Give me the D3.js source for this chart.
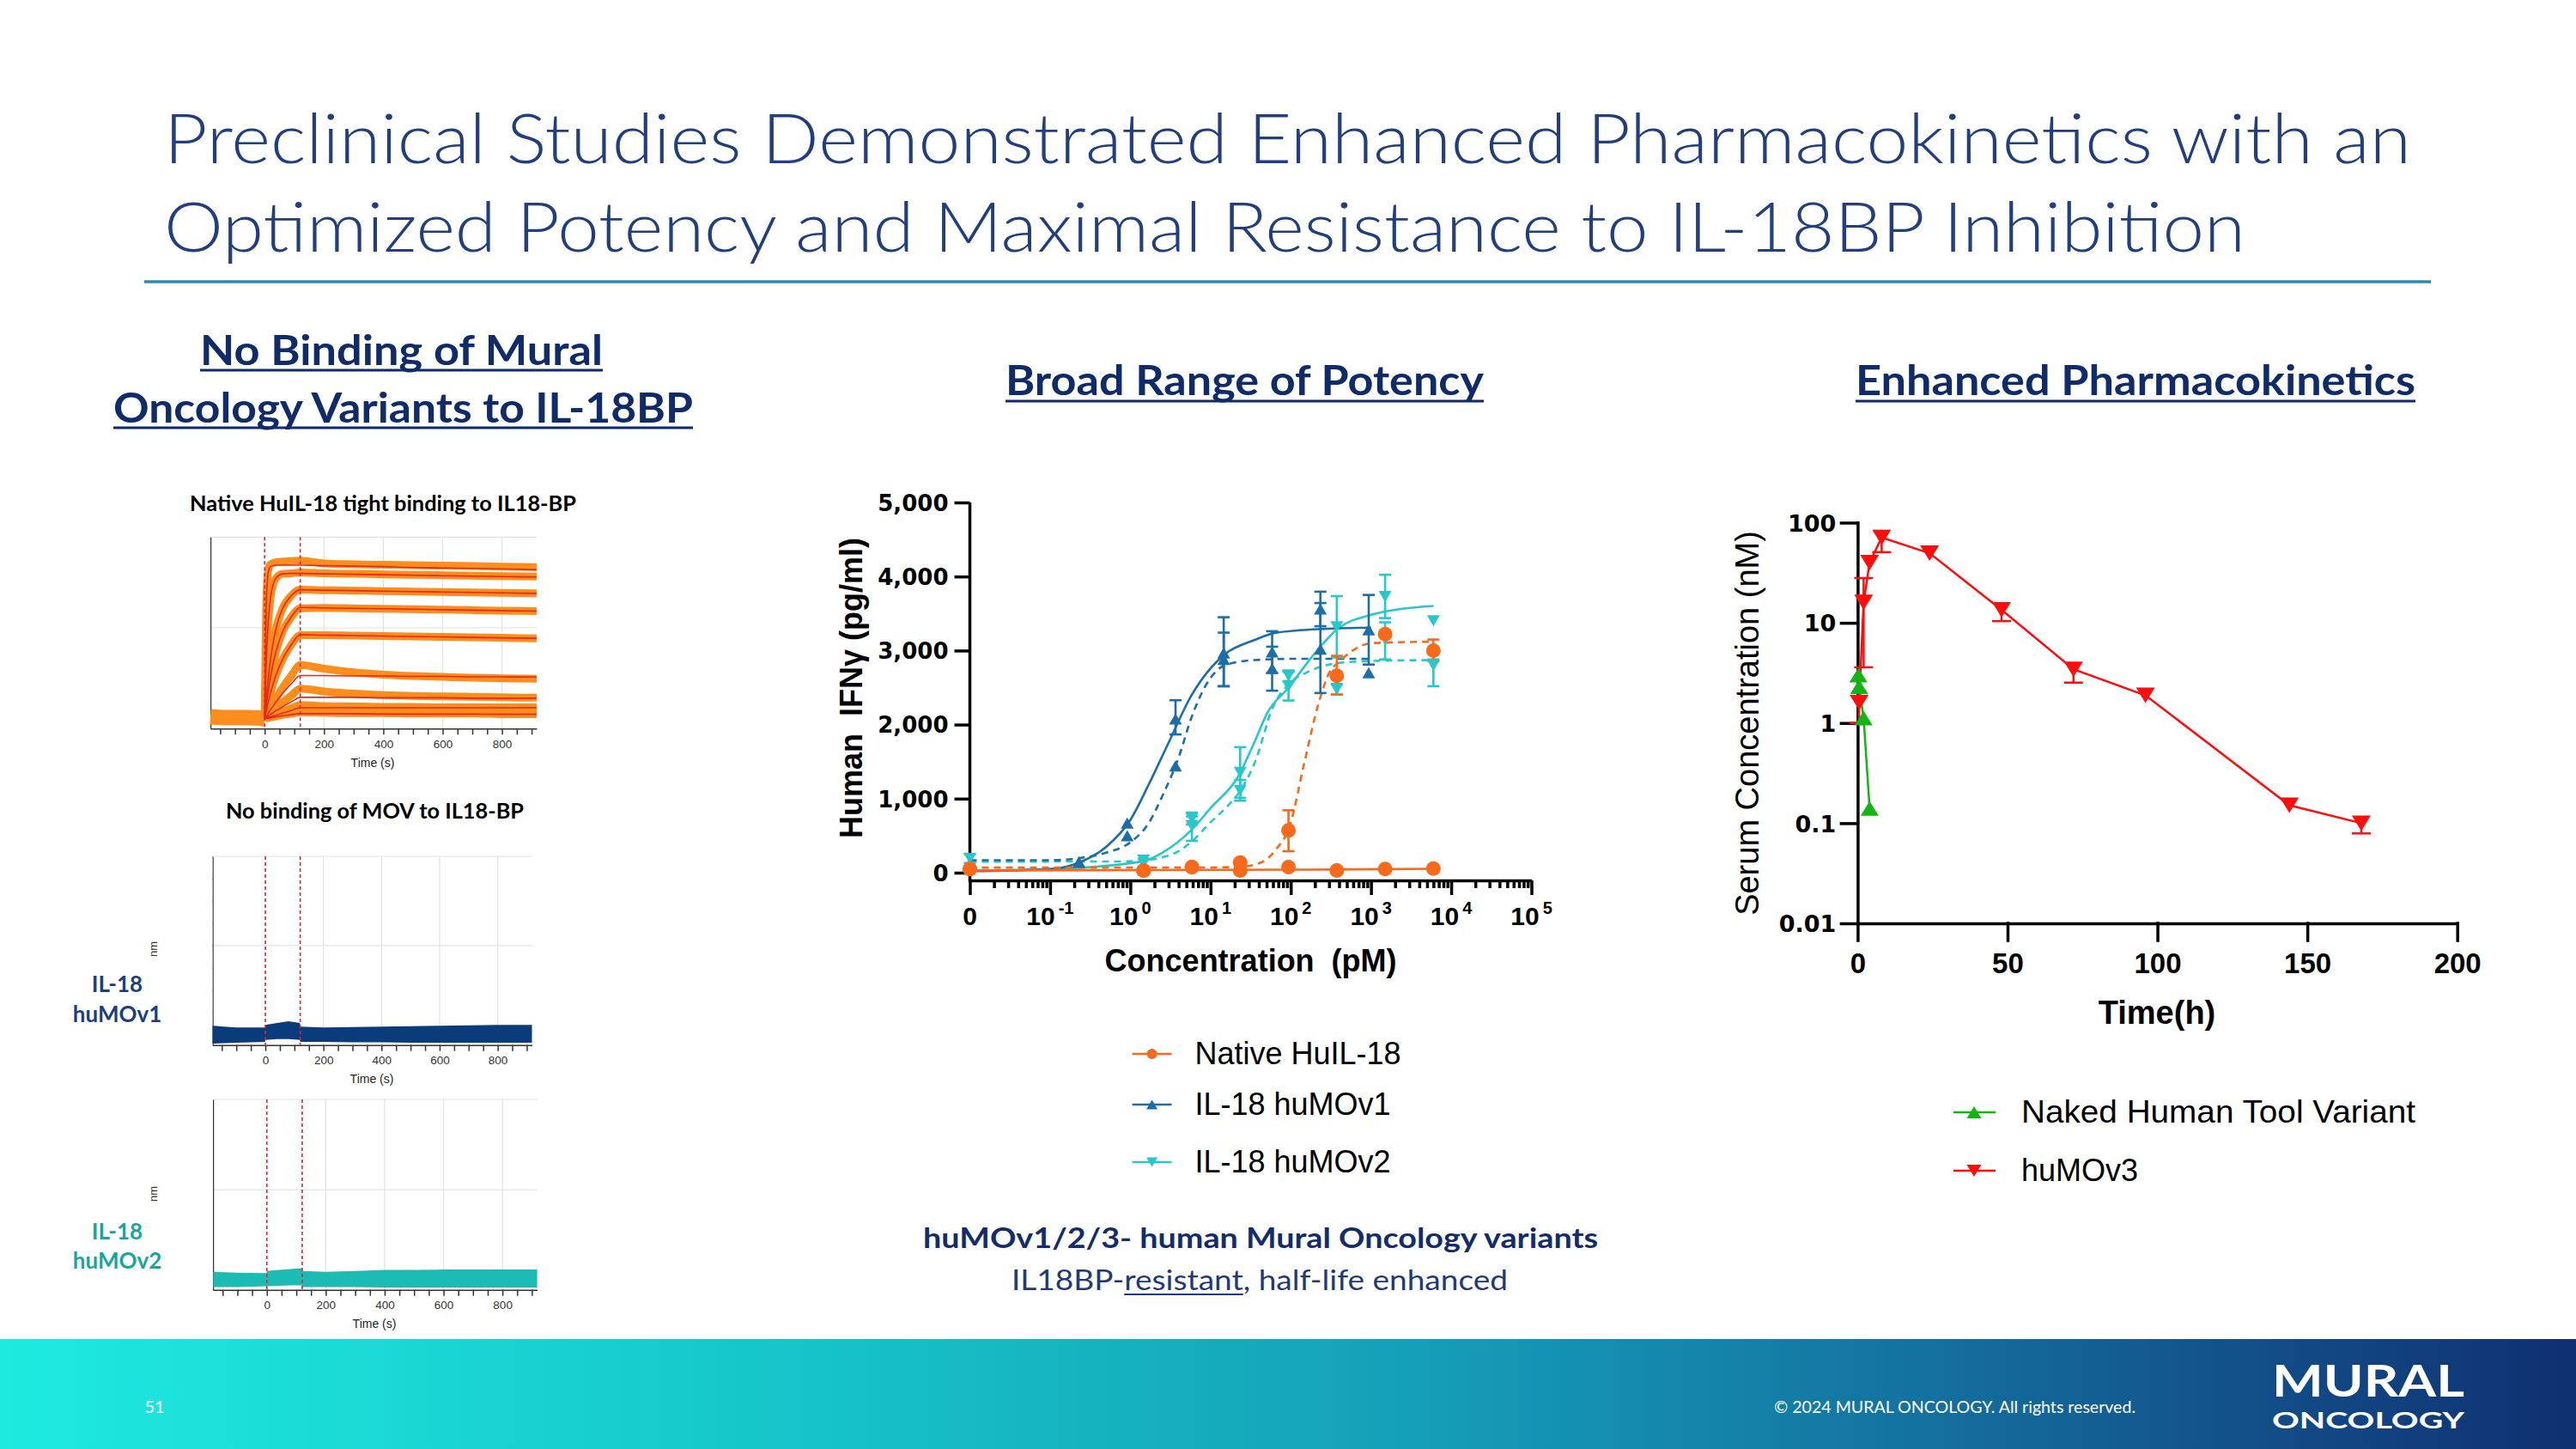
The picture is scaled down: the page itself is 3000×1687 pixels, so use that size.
<!DOCTYPE html>
<html><head><meta charset="utf-8">
<script src="https://cdn.jsdelivr.net/npm/d3@7"></script>
<style>
body{margin:0;background:#fff}
svg{display:block}
text{white-space:pre}
</style>
</head><body>
<svg id="s" width="3000" height="1687" xmlns="http://www.w3.org/2000/svg"></svg>
<script>
// ================= DATA =================
const titleLines = ["Preclinical Studies Demonstrated Enhanced Pharmacokinetics with an",
                    "Optimized Potency and Maximal Resistance to IL-18BP Inhibition"];
const leftHeading = ["No Binding of Mural", "Oncology Variants to IL-18BP"];
const midHeading = "Broad Range of Potency";
const rightHeading = "Enhanced Pharmacokinetics";

// --- Sensorgram (native HuIL-18 binding to IL18-BP), values in nm ---
const baselineTimes = [-183, -120, -60, 0];
const baselineVals = [0.004, 0.002, 0.002, 0.0];
const assocTimes = [0, 5, 10, 15, 20, 30, 40, 60, 90, 120];
const dissocTimes = [120, 200, 300, 400, 500, 600, 700, 800, 917];
const fitAssoc = [
  [0, .24, .31, .33, .335, .337, .338, .338, .338, .338],
  [0, .116, .19, .237, .267, .299, .311, .319, .32, .32],
  [0, .04, .075, .105, .131, .172, .203, .242, .271, .284],
  [0, .027, .051, .073, .093, .126, .152, .191, .224, .245],
  [0, .016, .031, .044, .057, .08, .099, .13, .163, .185],
  [0, .005, .01, .015, .02, .029, .038, .055, .077, .095],
  [0, .002, .005, .007, .009, .014, .018, .026, .037, .047],
  [0, .001, .002, .003, .004, .006, .008, .012, .018, .024],
  [0, .0005, .001, .0015, .002, .003, .004, .006, .009, .011]
];
const fitDissoc = [
  [.338, .337, .336, .335, .333, .332, .331, .330, .328],
  [.320, .319, .318, .317, .316, .315, .314, .313, .312],
  [.284, .283, .282, .281, .280, .279, .278, .277, .276],
  [.245, .244, .243, .242, .241, .240, .239, .238, .237],
  [.185, .184, .183, .182, .181, .180, .179, .178, .177],
  [.095, .095, .094, .094, .093, .093, .092, .092, .0915],
  [.047, .047, .047, .046, .046, .046, .045, .045, .045],
  [.024, .024, .024, .024, .024, .024, .024, .024, .024],
  [.011, .011, .011, .010, .010, .010, .010, .0095, .0095]
];
const dataAssoc = [
  [0, .24, .315, .335, .34, .343, .345, .346, .347, .348],
  [0, .116, .19, .237, .267, .299, .311, .319, .32, .322],
  [0, .04, .075, .105, .131, .172, .203, .242, .271, .284],
  [0, .027, .051, .073, .093, .126, .152, .191, .224, .243],
  [0, .016, .031, .044, .057, .08, .099, .13, .163, .184],
  [0, .007, .013, .019, .025, .036, .047, .068, .095, .118],
  [0, .003, .007, .01, .013, .019, .025, .036, .051, .066],
  [0, .002, .003, .004, .006, .008, .011, .016, .023, .03],
  [0, .001, .001, .002, .003, .004, .005, .008, .011, .014]
];
const dataDissoc = [
  [.346, .342, .34, .339, .338, .337, .336, .335, .334],
  [.322, .32, .319, .318, .317, .316, .315, .314, .313],
  [.284, .283, .282, .281, .280, .279, .278, .277, .276],
  [.245, .244, .243, .242, .241, .240, .239, .238, .237],
  [.185, .184, .183, .182, .181, .180, .179, .178, .177],
  [.118, .11, .102, .097, .094, .092, .09, .089, .088],
  [.066, .06, .055, .052, .05, .049, .048, .047, .046],
  [.03, .028, .027, .026, .026, .025, .025, .025, .025],
  [.014, .013, .012, .012, .011, .011, .011, .01, .01]
];
// --- No-binding sensorgrams (signal band, nm) ---
const movTimes = [-182, -100, -1, 0, 40, 80, 119, 120, 200, 300, 400, 500, 600, 700, 800, 918];
const mov1Upper = [.02, .016, .016, .022, .026, .03, .026, .018, .016, .017, .018, .019, .02, .021, .022, .022];
const mov1Lower = [-.02, -.018, -.016, -.012, -.01, -.01, -.012, -.016, -.016, -.017, -.017, -.018, -.018, -.018, -.018, -.018];
const mov2Upper = [.018, .016, .015, .02, .022, .024, .026, .02, .018, .02, .022, .022, .023, .023, .023, .023];
const mov2Lower = [-.016, -.016, -.014, -.014, -.013, -.012, -.012, -.016, -.016, -.016, -.017, -.017, -.017, -.017, -.017, -.017];
const sensorXTicks = [-150, -100, -50, 0, 50, 100, 150, 200, 250, 300, 350, 400, 450, 500, 550, 600, 650, 700, 750, 800, 850, 900];
const sensorYTicks = [0, 0.05, 0.1, 0.15, 0.2, 0.25, 0.3, 0.35, 0.4];

// --- Potency (IFNγ pg/ml vs concentration pM; 0 pM drawn at the "0" position) ---
const potencyYTicks = [0, 1000, 2000, 3000, 4000, 5000];
const potencyXMajor = [0.01, 0.1, 1, 10, 100, 1000, 10000, 100000];
const potencyXLabelExp = [null, "-1", "0", "1", "2", "3", "4", "5"];
const nativeConc = [0, 1.46, 5.86, 23.4, 93.75, 375, 1500, 6000];
const nativeSolidVals = [48, 28, 76, 28, 76, 28, 48, 56];
const nativeDashedVals = [48, 28, 76, 137, 570, 2659, 3221, 3000];
const nativeDashedErr = [null, null, null, null, [289, 843], [2406, 2928], null, [2859, 3149]];
const v1Conc = [0.229, 0.916, 3.66, 14.6, 58.6, 234, 937];
const v1SolidVals = [141, 670, 2076, 2968, 2980, 3562, 3281];
const v1SolidErr = [null, null, [1867, 2329], [2518, 3450], [2700, 3261], [3329, 3795], [2811, 3751]];
const v1DashedVals = [141, 498, 1442, 2880, 2759, 3020, 2699];
const v1DashedErr = [null, null, null, [2518, 3242], [2458, 3052], [2426, 3642], null];
const v2Conc = [0, 1.46, 5.86, 23.4, 93.75, 375, 1500, 6000];
const v2SolidVals = [30, 169, 731, 1353, 2518, 3321, 3731, 3402];
const v2SolidErr = [null, null, [651, 811], [1011, 1695], [2325, 2711], [2906, 3735], [3438, 4024], null];
const v2DashedVals = [190, 129, 631, 1112, 2659, 2478, 3150, 2799];
const v2DashedErr = [[130, 249], null, [430, 760], [972, 1252], [2587, 2731], [2406, 2550], [2880, 3381], [2518, 2880]];
// fitted curves: [conc pM, value]
const nativeSolidCurve = [[0.01, 30], [100, 40], [6000, 52]];
const nativeDashedCurve = [[0.01, 68], [10, 70], [23, 80], [36, 110], [50, 180], [65, 309], [97, 630], [147, 1474], [221, 2277], [308, 2719], [393, 2839], [590, 3000], [1023, 3100], [6000, 3120]];
const v1SolidCurve = [[0.01, 20], [0.1, 48], [0.23, 137], [0.5, 349], [1, 711], [1.7, 1193], [3, 1755], [5.8, 2397], [10, 2759], [15.5, 2960], [35, 3140], [65, 3241], [260, 3293], [1000, 3309]];
const v1DashedCurve = [[0.01, 169], [0.1, 169], [0.23, 197], [0.5, 269], [1, 410], [1.7, 671], [2.5, 1032], [4, 1554], [5.7, 2076], [8.6, 2518], [15.5, 2807], [35, 2871], [100, 2888], [1000, 2888]];
const v2SolidCurve = [[0.01, 28], [0.1, 48], [1.4, 149], [2.5, 269], [5.7, 570], [10, 871], [23, 1333], [35, 1755], [51, 2157], [97, 2518], [173, 2880], [393, 3301], [1000, 3482], [6000, 3602]];
const v2DashedCurve = [[0.01, 149], [1, 152], [3, 230], [5.7, 410], [10, 680], [17, 920], [23, 1092], [36, 1500], [60, 2237], [97, 2558], [170, 2719], [390, 2831], [1000, 2859], [6000, 2871]];
const potencyLegend = ["Native HuIL-18", "IL-18 huMOv1", "IL-18 huMOv2"];

// --- Pharmacokinetics (serum nM vs time h) ---
const pkYTicks = [0.01, 0.1, 1, 10, 100];
const pkYTickLabels = ["0.01", "0.1", "1", "10", "100"];
const pkXTicks = [0, 50, 100, 150, 200];
const pkTimes = [0.5, 2, 4, 8, 24, 48, 72, 96, 144, 168];
const pkHuMOv3 = [1.6, 16, 40, 71, 49.6, 13.5, 3.44, 1.89, 0.151, 0.1];
const pkHuMOv3ErrLow = [1.0, 3.6, null, 50.7, null, 10.4, 2.53, null, null, 0.079];
const pkHuMOv3ErrHigh = [null, 28, null, null, null, null, null, null, null, null];
const pkNakedTimes = [0.25, 0.5, 2, 4];
const pkNaked = [3.0, 2.3, 1.12, 0.14];
const pkLegend = ["Naked Human Tool Variant", "huMOv3"];

// ================= DRAW =================
const svg = d3.select("#s");
const NAVY = "#0f2b69", TITLE = "#213f7e";
const CAL = "Lato, 'Open Sans', sans-serif";
const ARIAL = "'Liberation Sans', Arial, sans-serif";
const DEJA = "'DejaVu Sans', sans-serif";
const cBlue = "#1b6ea7", cCyan = "#27c8cb", cOrange = "#f8691c", cRed = "#ff0d0d", cGreen = "#12b512";

const defs = svg.append("defs");
svg.append("rect").attr("width", 3000).attr("height", 1687).attr("fill", "#fff");

function txt(g, s, x, y, o) {
  const t = g.append("text").attr("x", x).attr("y", y).text(s)
    .attr("font-family", o.font || CAL).attr("font-size", o.size)
    .attr("font-weight", o.weight || 400).attr("fill", o.fill || "#000")
    .attr("text-anchor", o.anchor || "start");
  if (o.len) t.attr("textLength", o.len).attr("lengthAdjust", "spacingAndGlyphs");
  return t;
}
function uline(x1, x2, y, col, w) {
  svg.append("line").attr("x1", x1).attr("x2", x2).attr("y1", y).attr("y2", y)
    .attr("stroke", col).attr("stroke-width", w || 3);
}

// ---- Title ----
txt(svg, titleLines[0], 191, 190, {size: 80, weight: 300, fill: TITLE, len: 2617});
txt(svg, titleLines[1], 191, 293, {size: 80, weight: 300, fill: TITLE, len: 2424});
uline(168, 2831, 328, "#2a8bab", 3.5);

// ---- Headings ----
txt(svg, leftHeading[0], 233, 425, {size: 48, weight: 700, fill: NAVY, len: 469});
uline(233, 702, 431, NAVY, 3);
txt(svg, leftHeading[1], 132, 492, {size: 48, weight: 700, fill: NAVY, len: 675});
uline(132, 807, 498, NAVY, 3);
txt(svg, midHeading, 1171, 460, {size: 48, weight: 700, fill: NAVY, len: 557});
uline(1171, 1728, 467, NAVY, 3);
txt(svg, rightHeading, 2161, 460, {size: 48, weight: 700, fill: NAVY, len: 652});
uline(2161, 2813, 467, NAVY, 3);

// ---- Sensorgrams ----
function sensorFrame(cfg) {
  const g = svg.append("g");
  const x = d3.scaleLinear().domain(cfg.xd).range([cfg.left, cfg.right]);
  const y = d3.scaleLinear().domain(cfg.yd).range([cfg.bottom, cfg.top]);
  [200, 400, 600, 800].forEach(v => g.append("line").attr("x1", x(v)).attr("x2", x(v))
    .attr("y1", cfg.top).attr("y2", cfg.bottom).attr("stroke", "#e2e2e2").attr("stroke-width", 1.2));
  [0.2, 0.4].forEach(v => g.append("line").attr("x1", cfg.left).attr("x2", cfg.right)
    .attr("y1", y(v)).attr("y2", y(v)).attr("stroke", "#e2e2e2").attr("stroke-width", 1.2));
  const clipId = "clip" + cfg.id;
  defs.append("clipPath").attr("id", clipId).append("rect")
    .attr("x", 0).attr("y", cfg.top - 1).attr("width", 700).attr("height", 400);
  const ya = g.append("g").attr("transform", `translate(${cfg.left},0)`).attr("clip-path", `url(#${clipId})`)
    .call(d3.axisLeft(y).tickValues(sensorYTicks).tickSize(6).tickSizeOuter(0).tickPadding(4)
      .tickFormat(d => (Math.abs(d) < 1e-9 ? "0" : Math.abs(d - 0.2) < 1e-9 ? "0.2" : Math.abs(d - 0.4) < 1e-9 ? "0.4" : "")));
  const xa = g.append("g").attr("transform", `translate(0,${cfg.bottom})`)
    .call(d3.axisBottom(x).tickValues(sensorXTicks).tickSize(7).tickSizeOuter(0).tickPadding(6)
      .tickFormat(d => (d >= 0 && d % 200 === 0 ? d : "")));
  [ya, xa].forEach(a => {
    a.selectAll("path,line").attr("stroke", "#333").attr("stroke-width", 1.5);
    a.selectAll("text").attr("font-family", ARIAL).attr("font-size", 13.5).attr("fill", "#333");
  });
  txt(g, "Time (s)", cfg.timeX, cfg.timeY, {font: ARIAL, size: 14, fill: "#222", anchor: "middle"});
  if (cfg.nm) {
    g.append("text").attr("transform", `translate(${cfg.nm[0]},${cfg.nm[1]}) rotate(-90)`)
      .attr("text-anchor", "middle").attr("font-family", ARIAL).attr("font-size", 13).attr("fill", "#333").text("nm");
  }
  return {g, x, y};
}
function redMarkers(f, cfg) {
  [0, 120].forEach(v => f.g.append("line").attr("x1", f.x(v)).attr("x2", f.x(v))
    .attr("y1", cfg.top).attr("y2", cfg.bottom).attr("stroke", "#e3242b")
    .attr("stroke-width", 1.6).attr("stroke-dasharray", "4,3"));
}

// Plot 1
txt(svg, "Native HuIL-18 tight binding to IL18-BP", 221, 595, {size: 25, weight: 700, len: 450});
const s1cfg = {id: 1, xd: [-183, 917], yd: [-0.022, 0.4], left: 245, right: 625, bottom: 848.3, top: 625.3, timeX: 434, timeY: 893};
const s1 = sensorFrame(s1cfg);
{
  const ln = d3.line().x(d => s1.x(d[0])).y(d => s1.y(d[1])).curve(d3.curveMonotoneX);
  s1.g.append("path").attr("d", ln(baselineTimes.map((t, i) => [t, baselineVals[i]])))
    .attr("fill", "none").attr("stroke", "#fd8d1c").attr("stroke-width", 18).attr("stroke-linejoin", "round");
  dataAssoc.forEach((arr, k) => {
    const pts = assocTimes.map((t, i) => [t, arr[i]]).concat(dissocTimes.slice(1).map((t, i) => [t, dataDissoc[k][i + 1]]));
    s1.g.append("path").attr("d", ln(pts)).attr("fill", "none").attr("stroke", "#fd8d1c")
      .attr("stroke-width", 9).attr("stroke-linejoin", "round");
  });
  redMarkers(s1, s1cfg);
  fitAssoc.forEach((arr, k) => {
    const pts = assocTimes.map((t, i) => [t, arr[i]]).concat(dissocTimes.slice(1).map((t, i) => [t, fitDissoc[k][i + 1]]));
    s1.g.append("path").attr("d", ln(pts)).attr("fill", "none").attr("stroke", "#e8261a").attr("stroke-width", 1.6);
  });
}

// Plot 2 & 3
txt(svg, "No binding of MOV to IL18-BP", 263, 953, {size: 25, weight: 700, len: 347});
function movPlot(cfg, upper, lower, col) {
  const f = sensorFrame(cfg);
  const ar = d3.area().x(d => f.x(d[0])).y0(d => f.y(d[1])).y1(d => f.y(d[2]));
  f.g.append("path").attr("d", ar(movTimes.map((t, i) => [t, lower[i], upper[i]]))).attr("fill", col);
  redMarkers(f, cfg);
  return f;
}
movPlot({id: 2, xd: [-182, 918], yd: [-0.0233, 0.4], left: 247.5, right: 619.5, bottom: 1216.7, top: 997, timeX: 433, timeY: 1261, nm: [183, 1105]},
  mov1Upper, mov1Lower, "#0a3c7b");
movPlot({id: 3, xd: [-183, 918], yd: [-0.022, 0.4], left: 248, right: 625.6, bottom: 1501.7, top: 1280, timeX: 436, timeY: 1546, nm: [183, 1390]},
  mov2Upper, mov2Lower, "#1cbbb4");
txt(svg, "IL-18", 136.5, 1155, {size: 26, weight: 700, fill: "#1b3f7c", anchor: "middle"});
txt(svg, "huMOv1", 136.5, 1190, {size: 26, weight: 700, fill: "#1b3f7c", anchor: "middle"});
txt(svg, "IL-18", 136.5, 1443, {size: 26, weight: 700, fill: "#17a59f", anchor: "middle"});
txt(svg, "huMOv2", 136.5, 1477, {size: 26, weight: 700, fill: "#17a59f", anchor: "middle"});

// ---- Potency chart ----
function tri(w, h, down) {
  const hw = w / 2, hh = h / 2;
  return down ? `M${-hw},${-hh}L${hw},${-hh}L0,${hh}Z` : `M${-hw},${hh}L${hw},${hh}L0,${-hh}Z`;
}
{
  const pg = svg.append("g");
  const px = d3.scaleLog().domain([0.01, 1e5]).range([1129.5, 1783.5]);
  const py = d3.scaleLinear().domain([0, 5000]).range([1016, 585]);
  const axY = 1025;
  const cx = c => px(c === 0 ? 0.01 : c);
  const minor = [];
  for (let e = -2; e <= 4; e++) for (let m = 2; m <= 9; m++) minor.push(m * Math.pow(10, e));
  const isMajor = d => potencyXMajor.some(v => Math.abs(v - d) / v < 1e-9);
  const xa = pg.append("g").attr("transform", `translate(0,${axY})`)
    .call(d3.axisBottom(px).tickValues(potencyXMajor.concat(minor)).tickSizeOuter(0).tickFormat(""));
  xa.selectAll(".tick line").attr("y2", d => isMajor(d) ? 17 : 9);
  xa.selectAll("path,line").attr("stroke", "#000").attr("stroke-width", 3.5);
  const ya = pg.append("g").attr("transform", `translate(1129.5,0)`)
    .call(d3.axisLeft(py).tickValues(potencyYTicks).tickSize(18).tickPadding(7).tickSizeOuter(0).tickFormat(d3.format(",")));
  ya.select(".domain").remove();
  ya.selectAll("line").attr("stroke", "#000").attr("stroke-width", 3.5);
  ya.selectAll("text").attr("font-family", DEJA).attr("font-weight", 700).attr("font-size", 26).attr("fill", "#000").attr("dy", "0.36em");
  pg.append("line").attr("x1", 1129.5).attr("x2", 1129.5).attr("y1", 585).attr("y2", axY + 1.75)
    .attr("stroke", "#000").attr("stroke-width", 3.5);
  potencyXMajor.forEach((v, i) => {
    const t = pg.append("text").attr("x", px(v)).attr("y", 1077).attr("text-anchor", "middle")
      .attr("font-family", ARIAL).attr("font-weight", 700).attr("font-size", 30).attr("fill", "#000");
    if (potencyXLabelExp[i] === null) t.text("0");
    else {
      t.append("tspan").text("10");
      t.append("tspan").attr("dx", 4).attr("dy", -13).attr("font-size", 20).text(potencyXLabelExp[i]);
    }
  });
  pg.append("text").attr("transform", "translate(1004,801) rotate(-90)").attr("text-anchor", "middle")
    .attr("font-family", ARIAL).attr("font-weight", 700).attr("font-size", 36).text("Human  IFNγ (pg/ml)");
  txt(pg, "Concentration  (pM)", 1456.6, 1131, {font: ARIAL, weight: 700, size: 36, anchor: "middle"});

  const ln = d3.line().x(d => px(d[0])).y(d => py(d[1])).curve(d3.curveMonotoneX);
  function curve(pts, col, dashed) {
    pg.append("path").attr("d", ln(pts)).attr("fill", "none").attr("stroke", col)
      .attr("stroke-width", 2.6).attr("stroke-dasharray", dashed ? "8,6" : null);
  }
  function errs(conc, errArr, col) {
    errArr.forEach((e, i) => {
      if (!e) return;
      const xx = cx(conc[i]);
      pg.append("line").attr("x1", xx).attr("x2", xx).attr("y1", py(e[0])).attr("y2", py(e[1])).attr("stroke", col).attr("stroke-width", 2.6);
      e.forEach(v => pg.append("line").attr("x1", xx - 7).attr("x2", xx + 7).attr("y1", py(v)).attr("y2", py(v)).attr("stroke", col).attr("stroke-width", 2.6));
    });
  }
  function marks(conc, vals, col, shape) {
    conc.forEach((c, i) => {
      const g = pg.append("g").attr("transform", `translate(${cx(c)},${py(vals[i])})`);
      if (shape === "circle") g.append("circle").attr("r", 8.5).attr("fill", col);
      else g.append("path").attr("d", tri(15, 13, shape === "down")).attr("fill", col);
    });
  }
  curve(v2SolidCurve, cCyan, false); curve(v2DashedCurve, cCyan, true);
  curve(v1SolidCurve, cBlue, false); curve(v1DashedCurve, cBlue, true);
  curve(nativeSolidCurve, cOrange, false); curve(nativeDashedCurve, cOrange, true);
  errs(v2Conc, v2SolidErr, cCyan); errs(v2Conc, v2DashedErr, cCyan);
  errs(v1Conc, v1SolidErr, cBlue); errs(v1Conc, v1DashedErr, cBlue);
  errs(nativeConc, nativeDashedErr, cOrange);
  marks(v2Conc, v2SolidVals, cCyan, "down"); marks(v2Conc, v2DashedVals, cCyan, "down");
  marks(v1Conc, v1SolidVals, cBlue, "up"); marks(v1Conc, v1DashedVals, cBlue, "up");
  marks(nativeConc, nativeSolidVals, cOrange, "circle"); marks(nativeConc, nativeDashedVals, cOrange, "circle");

  const legY = [1227, 1286, 1353];
  const legCol = [cOrange, cBlue, cCyan];
  const legShape = ["circle", "up", "down"];
  potencyLegend.forEach((s, i) => {
    pg.append("line").attr("x1", 1318.6).attr("x2", 1364.5).attr("y1", legY[i]).attr("y2", legY[i]).attr("stroke", legCol[i]).attr("stroke-width", 2.5);
    const g = pg.append("g").attr("transform", `translate(1341.6,${legY[i]})`);
    if (legShape[i] === "circle") g.append("circle").attr("r", 6).attr("fill", legCol[i]);
    else g.append("path").attr("d", tri(13, 11, legShape[i] === "down")).attr("fill", legCol[i]);
    txt(pg, s, 1391.5, legY[i] + 12, {font: ARIAL, size: 36});
  });
}
txt(svg, "huMOv1/2/3- human Mural Oncology variants", 1075, 1453, {size: 33, weight: 700, fill: "#142c6a", len: 786});
{
  const t = svg.append("text").attr("x", 1178).attr("y", 1502).attr("font-family", CAL).attr("font-size", 32)
    .attr("fill", "#1f3a77").attr("textLength", 578).attr("lengthAdjust", "spacingAndGlyphs");
  t.append("tspan").text("IL18BP-");
  t.append("tspan").text("resistant");
  t.append("tspan").text(", half-life enhanced");
  let x1 = 1300, x2 = 1441;
  try { x1 = t.node().getStartPositionOfChar(7).x; x2 = t.node().getEndPositionOfChar(15).x; } catch (e) {}
  uline(x1, x2, 1507, "#1f3a77", 2);
}

// ---- PK chart ----
{
  const kg = svg.append("g");
  const kx = d3.scaleLinear().domain([0, 200]).range([2163.4, 2861.7]);
  const ky = d3.scaleLog().domain([0.01, 100]).range([1075, 608.5]);
  const ya = kg.append("g").attr("transform", "translate(2163.4,0)")
    .call(d3.axisLeft(ky).tickValues(pkYTicks).tickSize(19).tickPadding(6).tickSizeOuter(0)
      .tickFormat((d, i) => pkYTickLabels[i]));
  ya.selectAll("text").attr("font-family", DEJA).attr("font-weight", 700).attr("font-size", 27).attr("dy", "0.36em");
  const xa = kg.append("g").attr("transform", "translate(0,1075)")
    .call(d3.axisBottom(kx).tickValues(pkXTicks).tickSize(20).tickPadding(15).tickSizeOuter(0));
  xa.selectAll("text").attr("font-family", ARIAL).attr("font-weight", 700).attr("font-size", 33);
  [ya, xa].forEach(a => {
    a.selectAll("path,line").attr("stroke", "#000").attr("stroke-width", 3.5).attr("stroke-linecap", "square");
    a.selectAll("text").attr("fill", "#000");
  });
  kg.append("text").attr("transform", "translate(2048,842) rotate(-90)").attr("text-anchor", "middle")
    .attr("font-family", ARIAL).attr("font-size", 38).text("Serum Concentration (nM)");
  txt(kg, "Time(h)", 2512, 1192, {font: ARIAL, weight: 700, size: 38, anchor: "middle"});

  const ln = d3.line().x(d => kx(d[0])).y(d => ky(d[1]));
  pkTimes.forEach((t, i) => {
    const xx = kx(t);
    [pkHuMOv3ErrLow[i], pkHuMOv3ErrHigh[i]].forEach(e => {
      if (e === null) return;
      kg.append("line").attr("x1", xx).attr("x2", xx).attr("y1", ky(pkHuMOv3[i])).attr("y2", ky(e)).attr("stroke", cRed).attr("stroke-width", 2.5);
      kg.append("line").attr("x1", xx - 11).attr("x2", xx + 11).attr("y1", ky(e)).attr("y2", ky(e)).attr("stroke", cRed).attr("stroke-width", 2.5);
    });
  });
  kg.append("path").attr("d", ln(pkTimes.map((t, i) => [t, pkHuMOv3[i]]))).attr("fill", "none").attr("stroke", cRed).attr("stroke-width", 2.5);
  kg.append("path").attr("d", ln(pkNakedTimes.map((t, i) => [t, pkNaked[i]]))).attr("fill", "none").attr("stroke", cGreen).attr("stroke-width", 2.5);
  pkNakedTimes.forEach((t, i) => kg.append("path").attr("transform", `translate(${kx(t)},${ky(pkNaked[i])})`)
    .attr("d", tri(21, 17, false)).attr("fill", cGreen));
  pkTimes.forEach((t, i) => kg.append("path").attr("transform", `translate(${kx(t)},${ky(pkHuMOv3[i])})`)
    .attr("d", tri(22, 18, true)).attr("fill", cRed));
  const legY = [1295, 1363], legCol = [cGreen, cRed];
  pkLegend.forEach((s, i) => {
    kg.append("line").attr("x1", 2275).attr("x2", 2324).attr("y1", legY[i]).attr("y2", legY[i]).attr("stroke", legCol[i]).attr("stroke-width", 2.5);
    kg.append("path").attr("transform", `translate(2299,${legY[i]})`).attr("d", tri(17, 14, i === 1)).attr("fill", legCol[i]);
    const o = {font: ARIAL, size: 36};
    if (i === 0) o.len = 459;
    txt(kg, s, 2354, legY[i] + 12, o);
  });
}

// ---- Footer ----
{
  const gr = defs.append("linearGradient").attr("id", "foot").attr("x1", 0).attr("x2", 1).attr("y1", 0).attr("y2", 0);
  [[0, "#1eeae0"], [0.3, "#16c6c9"], [0.55, "#159fb8"], [0.75, "#14709f"], [0.9, "#124884"], [1, "#0f2f70"]]
    .forEach(s => gr.append("stop").attr("offset", s[0]).attr("stop-color", s[1]));
  svg.append("rect").attr("x", 0).attr("y", 1559).attr("width", 3000).attr("height", 128).attr("fill", "url(#foot)");
  txt(svg, "51", 180, 1645, {size: 20, fill: "#fff", anchor: "middle"});
  txt(svg, "© 2024 MURAL ONCOLOGY. All rights reserved.", 2066, 1645, {size: 19, fill: "#fff", len: 421});
  txt(svg, "MURAL", 2646, 1626, {size: 52, weight: 700, fill: "#fff", len: 224});
  txt(svg, "ONCOLOGY", 2646, 1663, {size: 27, weight: 700, fill: "#fff", len: 224});
}
</script>
</body></html>
